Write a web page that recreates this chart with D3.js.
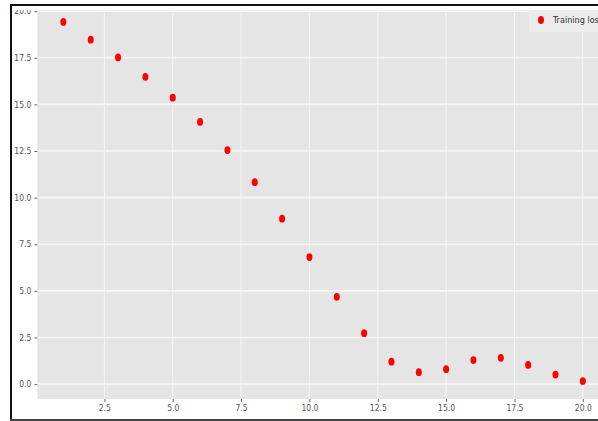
<!DOCTYPE html>
<html>
<head>
<meta charset="utf-8">
<script src="https://cdn.jsdelivr.net/npm/d3@7"></script>
<style>
  html, body { margin: 0; padding: 0; background: #fff; }
  text { font-family: "DejaVu Sans Condensed", "DejaVu Sans", sans-serif; }
</style>
</head>
<body>
<div id="chart"></div>
<script>
// epochs and training loss
const epochs = [1, 2, 3, 4, 5, 6, 7, 8, 9, 10, 11, 12, 13, 14, 15, 16, 17, 18, 19, 20];
const trainingLoss = [19.42, 18.47, 17.52, 16.48, 15.36, 14.06, 12.55, 10.83, 8.87, 6.81,
  4.68, 2.73, 1.20, 0.64, 0.80, 1.29, 1.41, 1.03, 0.51, 0.16];
const xTicks = [2.5, 5.0, 7.5, 10.0, 12.5, 15.0, 17.5, 20.0];
const yTicks = [0.0, 2.5, 5.0, 7.5, 10.0, 12.5, 15.0, 17.5, 20.0];
const seriesName = 'Training loss';

const width = 598;
const height = 421;

const svg = d3.select('#chart')
  .append('svg')
  .attr('width', width)
  .attr('height', height);

svg.append('rect')
  .attr('width', width)
  .attr('height', height)
  .attr('fill', '#fff');

// the picture is a crop of a bigger figure
svg.append('clipPath')
  .attr('id', 'crop')
  .append('rect')
  .attr('x', 12)
  .attr('y', 10)
  .attr('width', width - 12)
  .attr('height', 409);

const xCoord = d3.scaleLinear().domain([0.05, 20.95]).range([37.4, 608.8]);
const yCoord = d3.scaleLinear().domain([-0.8, 20.4]).range([399, 3.7]);

const chart = svg.append('g').attr('clip-path', 'url(#crop)');

chart.append('rect')
  .attr('x', xCoord.range()[0])
  .attr('y', yCoord.range()[1])
  .attr('width', xCoord.range()[1] - xCoord.range()[0])
  .attr('height', yCoord.range()[0] - yCoord.range()[1])
  .attr('fill', '#e5e5e5');

// grid
chart.append('g')
  .selectAll('line')
  .data(xTicks)
  .enter()
  .append('line')
  .attr('x1', d => xCoord(d))
  .attr('x2', d => xCoord(d))
  .attr('y1', yCoord.range()[1])
  .attr('y2', yCoord.range()[0])
  .attr('stroke', '#f6f6f6')
  .attr('stroke-width', 1);

chart.append('g')
  .selectAll('line')
  .data(yTicks)
  .enter()
  .append('line')
  .attr('x1', xCoord.range()[0])
  .attr('x2', xCoord.range()[1])
  .attr('y1', d => yCoord(d))
  .attr('y2', d => yCoord(d))
  .attr('stroke', '#f6f6f6')
  .attr('stroke-width', 1.6);

// axes
const xAxis = d3.axisBottom(xCoord)
  .tickValues(xTicks)
  .tickFormat(d3.format('.1f'))
  .tickSize(3)
  .tickPadding(3);
const yAxis = d3.axisLeft(yCoord)
  .tickValues(yTicks)
  .tickFormat(d3.format('.1f'))
  .tickSize(3)
  .tickPadding(3);

const gx = chart.append('g')
  .attr('transform', 'translate(0,' + yCoord.range()[0] + ')')
  .call(xAxis);
const gy = chart.append('g')
  .attr('transform', 'translate(' + xCoord.range()[0] + ',0)')
  .call(yAxis);

[gx, gy].forEach((g) => {
  g.select('.domain').remove();
  g.selectAll('.tick line').attr('stroke', '#666');
  g.selectAll('.tick text')
    .attr('fill', '#555')
    .style('font-size', '8.5px');
});

// points
chart.append('g')
  .selectAll('ellipse')
  .data(epochs.map((e, i) => ({epoch: e, loss: trainingLoss[i]})))
  .enter()
  .append('ellipse')
  .attr('cx', d => xCoord(d.epoch))
  .attr('cy', d => yCoord(d.loss))
  .attr('rx', 3)
  .attr('ry', 3.9)
  .attr('fill', '#ff0000');

// legend
const legend = chart.append('g').attr('transform', 'translate(529,7)');
legend.append('rect')
  .attr('width', 90)
  .attr('height', 25)
  .attr('rx', 2)
  .attr('fill', '#ececec');
legend.append('ellipse')
  .attr('cx', 12)
  .attr('cy', 13)
  .attr('rx', 3)
  .attr('ry', 3.9)
  .attr('fill', '#ff0000');
legend.append('text')
  .attr('x', 24)
  .attr('y', 16)
  .attr('fill', '#333')
  .style('font-size', '9px')
  .text(seriesName);

// frame round the crop
svg.append('line')
  .attr('x1', 10).attr('x2', width)
  .attr('y1', 5).attr('y2', 5)
  .attr('stroke', '#111').attr('stroke-width', 2);
svg.append('line')
  .attr('x1', 11).attr('x2', 11)
  .attr('y1', 4).attr('y2', height)
  .attr('stroke', '#111').attr('stroke-width', 2);
svg.append('line')
  .attr('x1', 10).attr('x2', width)
  .attr('y1', 420).attr('y2', 420)
  .attr('stroke', '#444').attr('stroke-width', 2);
</script>
</body>
</html>
